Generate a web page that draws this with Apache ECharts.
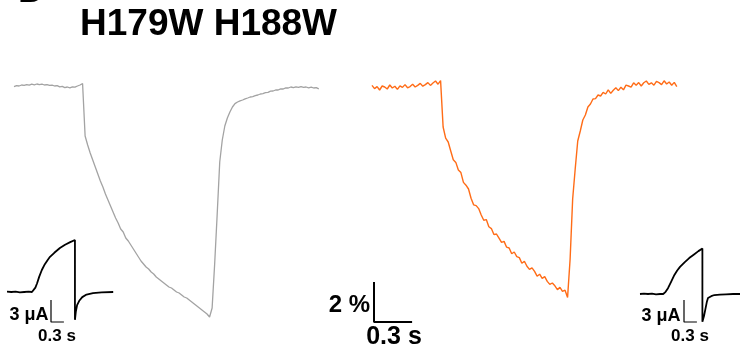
<!DOCTYPE html>
<html>
<head>
<meta charset="utf-8">
<script src="https://cdn.jsdelivr.net/npm/echarts@6/dist/echarts.min.js"></script>
<style>
  html, body { margin: 0; padding: 0; background: #fff; }
  #chart { width: 740px; height: 352px; }
</style>
</head>
<body>
<div id="chart"></div>
<script>
// fluorescence traces (% change), one sample every dt seconds
const dt = 0.02
const grayPct = [
  -0.03, 0.02, 0.00, 0.05, 0.03, 0.07, 0.04, 0.09, 0.06, 0.10,
  0.07, 0.09, 0.05, 0.07, 0.03, 0.04, 0.00, 0.02, -0.04, -0.02,
  -0.08, -0.05, -0.09, -0.04, -0.06, 0.00, 0.05, 0.12,
  -2.5, -2.95, -3.35, -3.7, -4.05, -4.4, -4.75, -5.05, -5.4, -5.7,
  -6.0, -6.3, -6.6, -6.85, -7.15, -7.3, -7.6, -7.75, -7.95, -8.15,
  -8.35, -8.55, -8.75, -8.9, -9.05, -9.15, -9.3, -9.4, -9.55, -9.65,
  -9.75, -9.85, -9.95, -10.05, -10.1, -10.2, -10.3, -10.35, -10.45, -10.55,
  -10.6, -10.7, -10.8, -10.9, -11.0, -11.1, -11.2, -11.3, -11.4, -11.55,
  -11.1, -8.9, -6.4, -3.8, -2.7, -2.0, -1.6, -1.3, -1.05, -0.88,
  -0.8, -0.74, -0.7, -0.64, -0.6, -0.55, -0.53, -0.48, -0.45, -0.4,
  -0.38, -0.33, -0.32, -0.26, -0.25, -0.2, -0.2, -0.14, -0.15, -0.09,
  -0.1, -0.05, -0.08, -0.04, -0.07, -0.03, -0.07, -0.05, -0.09, -0.06,
  -0.1, -0.08, -0.14
]
const orangePct = [
  -0.02, -0.18, -0.08, -0.25, -0.05, -0.1, -0.2, 0.0, -0.15, -0.06,
  -0.22, -0.04, -0.12, 0.02, -0.14, -0.08, 0.04, -0.1, -0.02, 0.08,
  -0.06, 0.02, 0.12, -0.02, 0.1, 0.2, 0.04, 0.22,
  -2.1, -2.66, -2.85, -3.3, -3.74, -3.87, -4.25, -4.38, -4.87, -5.01,
  -5.2, -5.66, -5.99, -6.03, -6.18, -6.5, -6.76, -6.73, -7.09, -7.18,
  -7.48, -7.45, -7.66, -7.87, -7.82, -8.11, -8.15, -8.44, -8.35, -8.58,
  -8.63, -8.91, -8.81, -9.06, -9.22, -9.14, -9.32, -9.56, -9.46, -9.67,
  -9.58, -9.82, -9.97, -9.9, -10.04, -10.23, -10.12, -10.32, -10.26, -10.62,
  -8.7, -5.7, -4.2, -2.8, -2.3, -1.75, -1.5, -1.1, -0.95, -0.7,
  -0.68, -0.5, -0.55, -0.37, -0.45, -0.24, -0.42, -0.26, -0.14, -0.28,
  -0.11, -0.24, -0.01, -0.05, -0.11, 0.11, -0.01, 0.12, -0.05, 0.11,
  0.2, 0.03, 0.11, -0.01, 0.18, 0.12, 0.02, 0.21, 0.05, 0.15,
  -0.01, 0.13, -0.08
]

// current insets (s, uA)
const leftInsetTime = [0, 0.1, 0.2, 0.3, 0.4, 0.5, 0.58, 0.62, 0.66, 0.70, 0.75, 0.81, 0.88, 0.95, 1.0, 1.1, 1.23, 1.35, 1.47, 1.58,
  1.58, 1.60, 1.63, 1.68, 1.75, 1.85, 2.0, 2.2, 2.47]
const leftInsetUA = [0.05, 0, 0.05, -0.05, 0, 0.05, 0, 0.2, 0.6, 1.2, 2.1, 3.0, 3.8, 4.4, 4.8, 5.35, 6.0, 6.45, 6.8, 7.1,
  -3.8, -2.7, -1.8, -1.2, -0.7, -0.35, -0.15, -0.05, 0]
const rightInsetTime = [0, 0.1, 0.2, 0.3, 0.4, 0.5, 0.58, 0.64, 0.70, 0.78, 0.86, 0.93, 1.0, 1.12, 1.23, 1.35, 1.46, 1.56,
  1.56, 1.60, 1.63, 1.67, 1.70, 1.78, 1.86, 2.0, 2.15, 2.33, 2.5]
const rightInsetUA = [0, 0.05, 0, 0.05, -0.05, 0, 0, 0.3, 0.8, 1.7, 2.6, 3.2, 3.7, 4.35, 4.9, 5.4, 5.85, 6.2,
  -3.8, -3.0, -2.2, -1.1, -0.55, -0.3, -0.14, -0.08, -0.04, 0, 0]

// scale bars
const barPct = 2
const barSec = 0.3
const barUA = 3

// pixels per unit
const pxSecMain = 127
const pxPct = 20
const pxSecInset = 43
const pxUA = 7.33

const font = '"Liberation Sans", Arial, sans-serif'

const pairs = (xs, ys) => xs.map((x, i) => [x, ys[i]])
const sampled = vals => vals.map((v, i) => [+(i * dt).toFixed(2), v])
const bar = (h, w) => [[0, h], [0, 0], [w, 0]]

const grids = [
  { left: 14, top: 66, width: 2.4 * pxSecMain, height: 13 * pxPct },
  { left: 372, top: 65, width: 2.4 * pxSecMain, height: 13 * pxPct },
  { left: 7, top: 292 - 8 * pxUA, width: 2.5 * pxSecInset, height: 13 * pxUA },
  { left: 640, top: 294 - 8 * pxUA, width: 2.5 * pxSecInset, height: 13 * pxUA },
  { left: 374, top: 282, width: barSec * pxSecMain, height: barPct * pxPct },
  { left: 51, top: 300, width: barSec * pxSecInset, height: barUA * pxUA },
  { left: 684, top: 300, width: barSec * pxSecInset, height: barUA * pxUA }
]
const xRanges = [[0, 2.4], [0, 2.4], [0, 2.5], [0, 2.5], [0, barSec], [0, barSec], [0, barSec]]
const yRanges = [[-12, 1], [-12, 1], [-5, 8], [-5, 8], [0, barPct], [0, barUA], [0, barUA]]

const line = (idx, data, color, width) => ({
  type: 'line',
  xAxisIndex: idx,
  yAxisIndex: idx,
  data: data,
  showSymbol: false,
  clip: false,
  lineStyle: { color: color, width: width },
  silent: true
})

const txt = (text, x, y, size, align) => ({
  type: 'text',
  x: x,
  y: y,
  style: {
    text: text,
    font: 'bold ' + size + 'px ' + font,
    fill: '#000',
    align: align || 'center',
    verticalAlign: 'middle'
  }
})

const chart = echarts.init(document.getElementById('chart'))
chart.setOption({
  animation: false,
  backgroundColor: '#fff',
  grid: grids.map(g => Object.assign({ containLabel: false }, g)),
  xAxis: xRanges.map((r, i) => ({ type: 'value', gridIndex: i, min: r[0], max: r[1], show: false })),
  yAxis: yRanges.map((r, i) => ({ type: 'value', gridIndex: i, min: r[0], max: r[1], show: false })),
  series: [
    line(0, sampled(grayPct), '#a3a3a3', 1.3),
    line(1, sampled(orangePct), '#ff6c17', 1.4),
    line(2, pairs(leftInsetTime, leftInsetUA), '#000', 1.8),
    line(3, pairs(rightInsetTime, rightInsetUA), '#000', 1.8),
    line(4, bar(barPct, barSec), '#000', 2),
    line(5, bar(barUA, barSec), '#000', 1.2),
    line(6, bar(barUA, barSec), '#000', 1.2)
  ],
  graphic: [
    txt('D', 18, -8, 37, 'left'),
    txt('H179W H188W', 80, 25, 37, 'left'),
    txt('3 \u03bcA', 29, 315, 18),
    txt('0.3 s', 57, 336, 17),
    txt('3 \u03bcA', 661, 316, 18),
    txt('0.3 s', 690, 336, 17),
    txt('2 %', 370, 305, 24, 'right'),
    txt('0.3 s', 394, 337, 25)
  ]
})
</script>
</body>
</html>
